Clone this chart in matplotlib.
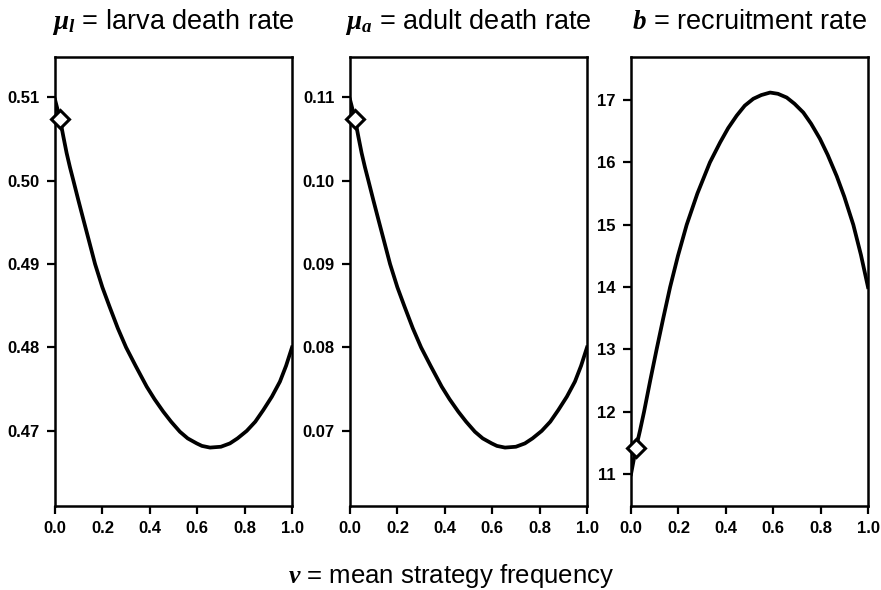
import matplotlib
matplotlib.use("Agg")
import matplotlib.pyplot as plt

plt.rcParams['font.family'] = ['Liberation Sans', 'DejaVu Sans']
plt.rcParams['mathtext.fontset'] = 'custom'
plt.rcParams['mathtext.bfit'] = 'Liberation Serif:bold:italic'
plt.rcParams['mathtext.it'] = 'Liberation Serif:italic'
plt.rcParams['mathtext.rm'] = 'Liberation Serif'

# --- data ---
v_larva = [0.0, 0.01, 0.021, 0.035, 0.049, 0.063, 0.0775, 0.098, 0.12, 0.145, 0.169, 0.20,
           0.23, 0.265, 0.30, 0.34, 0.387, 0.42, 0.457, 0.49, 0.527, 0.56, 0.598, 0.62,
           0.654, 0.70, 0.738, 0.77, 0.809, 0.845, 0.879, 0.915, 0.949, 0.975, 1.0]
larva = [0.5097, 0.5086, 0.5074, 0.5053, 0.5033, 0.5016, 0.5000, 0.4977, 0.4953, 0.4926,
         0.4900, 0.4872, 0.4849, 0.4823, 0.4800, 0.4778, 0.4753, 0.4738, 0.4723, 0.4711,
         0.4699, 0.4691, 0.4685, 0.4682, 0.4680, 0.4681, 0.4685, 0.4691, 0.4700, 0.4711,
         0.4725, 0.4741, 0.4759, 0.4778, 0.4800]

v_adult = [0.0, 0.01, 0.021, 0.035, 0.049, 0.063, 0.0775, 0.098, 0.12, 0.145, 0.169, 0.20,
           0.23, 0.265, 0.30, 0.34, 0.387, 0.42, 0.457, 0.49, 0.527, 0.56, 0.598, 0.62,
           0.654, 0.70, 0.738, 0.77, 0.809, 0.845, 0.879, 0.915, 0.949, 0.975, 1.0]
adult = [0.1097, 0.1086, 0.1074, 0.1053, 0.1033, 0.1016, 0.1000, 0.0977, 0.0953, 0.0926,
         0.0900, 0.0872, 0.0849, 0.0823, 0.0800, 0.0778, 0.0753, 0.0738, 0.0723, 0.0711,
         0.0699, 0.0691, 0.0685, 0.0682, 0.0680, 0.0681, 0.0685, 0.0691, 0.0700, 0.0711,
         0.0725, 0.0741, 0.0759, 0.0778, 0.0800]

v_recr = [0.0, 0.021, 0.038, 0.055, 0.081, 0.108, 0.136, 0.165, 0.198, 0.235, 0.28, 0.333,
          0.376, 0.41, 0.446, 0.48, 0.516, 0.55, 0.587, 0.62, 0.657, 0.69, 0.727, 0.76,
          0.797, 0.83, 0.868, 0.90, 0.938, 0.97, 1.0]
recr = [11.0, 11.42, 11.70, 12.0, 12.5, 13.0, 13.5, 14.0, 14.5, 15.0, 15.5, 16.0,
        16.32, 16.55, 16.75, 16.91, 17.02, 17.08, 17.12, 17.10, 17.04, 16.94, 16.80, 16.62,
        16.38, 16.12, 15.78, 15.45, 15.00, 14.52, 14.0]

marker_v = [0.021, 0.021, 0.021]
marker_y = [0.5074, 0.1074, 11.42]

titles = [r'$\mathbfit{\mu}_{\mathbfit{l}}$ = larva death rate',
          r'$\mathbfit{\mu}_{\mathbfit{a}}$ = adult death rate',
          r'$\mathbfit{b}$ = recruitment rate']
yticks = [[0.47, 0.48, 0.49, 0.50, 0.51],
          [0.07, 0.08, 0.09, 0.10, 0.11],
          [11, 12, 13, 14, 15, 16, 17]]
ytick_fmt = ['{:.2f}', '{:.2f}', '{:d}']
ylims = [(0.4610, 0.5148), (0.0610, 0.1148), (10.49, 17.69)]
xticks = [0.0, 0.2, 0.4, 0.6, 0.8, 1.0]

series = [(v_larva, larva), (v_adult, adult), (v_recr, recr)]

fig = plt.figure(figsize=(8.81, 5.90), dpi=100)
lefts = [55 / 881, 350 / 881, 631 / 881]
W = 237 / 881
B = 1 - 506 / 590
H = (506 - 57) / 590

for i in range(3):
    ax = fig.add_axes([lefts[i], B, W, H])
    xs, ys = series[i]
    ax.plot(xs, ys, color='black', lw=2.7, solid_joinstyle='round', zorder=2)
    ax.plot([marker_v[i]], [marker_y[i]], marker='D', ms=9.5, mfc='white', mec='black', mew=2.2,
            ls='none', zorder=3, clip_on=False)
    ax.set_xlim(0, 1)
    ax.set_ylim(*ylims[i])
    ax.set_xticks(xticks)
    ax.set_xticklabels(['{:.1f}'.format(t) for t in xticks])
    ax.set_yticks(yticks[i])
    ax.set_yticklabels([ytick_fmt[i].format(t) for t in yticks[i]])
    for s in ax.spines.values():
        s.set_linewidth(1.8)
    ax.tick_params(direction='out', length=6, width=1.6, labelsize=12, pad=5,
                   top=False, right=False)
    for lab in ax.get_xticklabels() + ax.get_yticklabels():
        lab.set_fontweight('bold')
    ax.set_title(titles[i], fontsize=19.5, pad=20)

fig.text(0.512, 0.024, r'$\mathbfit{v}$ = mean strategy frequency', ha='center', va='center', fontsize=18.5)

fig.savefig('out.png', dpi=100)
